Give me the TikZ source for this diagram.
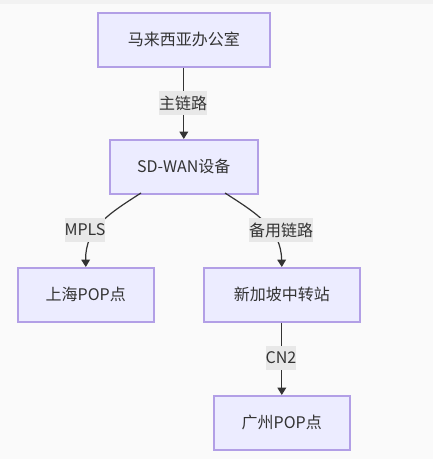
\documentclass[tikz,border=0pt]{standalone}
\usepackage{fontspec}
\setmainfont{Noto Sans CJK SC}
\usetikzlibrary{arrows.meta}
\definecolor{bg}{HTML}{FAFAFA}
\definecolor{topband}{HTML}{F2F2F2}
\definecolor{nodefill}{HTML}{ECECFF}
\definecolor{nodeline}{HTML}{B29FE6}
\definecolor{edgecol}{HTML}{333333}
\definecolor{lblbg}{HTML}{E8E8E8}
\definecolor{txt}{HTML}{333333}
\tikzset{
  box/.style={draw=nodeline, fill=nodefill, line width=1.2pt, text=txt,
    font=\fontsize{12pt}{14pt}\selectfont, inner sep=0pt, anchor=north west},
  lbl/.style={fill=lblbg, text=txt, font=\fontsize{12pt}{14pt}\selectfont,
    inner sep=0pt, minimum height=18pt},
  conn/.style={draw=edgecol, line width=0.9pt,
    -{Triangle[length=5.5pt,width=6.5pt]}},
}
\begin{document}
\begin{tikzpicture}[x=0.75pt,y=-0.75pt]
\useasboundingbox (0,0) rectangle (433,459);
\fill[bg] (0,0) rectangle (433,459);
\fill[topband] (0,0) rectangle (433,4);

\node[box, minimum width=129pt, minimum height=40.5pt] (mo) at (97,12) {马来西亚办公室};
\node[box, minimum width=111pt, minimum height=40.5pt] (sd) at (109,139) {SD-WAN设备};
\node[box, minimum width=102pt, minimum height=40.5pt] (sh) at (17,267) {上海POP点};
\node[box, minimum width=117pt, minimum height=40.5pt] (sg) at (203,267) {新加坡中转站};
\node[box, minimum width=102pt, minimum height=40.5pt] (gz) at (213,395) {广州POP点};

\coordinate (sdL) at (141,193);
\coordinate (sdR) at (225,193);

\draw[conn] (mo.south) -- (sd.north);
\draw[conn] (sdL) .. controls (110,213) and (85,228) .. (sh.north);
\draw[conn] (sdR) .. controls (256,213) and (281,228) .. (sg.north);
\draw[conn] (sg.south) -- (gz.north);

\node[lbl, minimum width=36pt] (l1) at (183,103) {主链路};
\node[lbl, minimum width=27pt] (l2) at (85,230) {MPLS};
\node[lbl, minimum width=48pt] (l3) at (281,230) {备用链路};
\node[lbl, minimum width=21pt] (l4) at (281,358) {CN2};
\end{tikzpicture}
\end{document}
